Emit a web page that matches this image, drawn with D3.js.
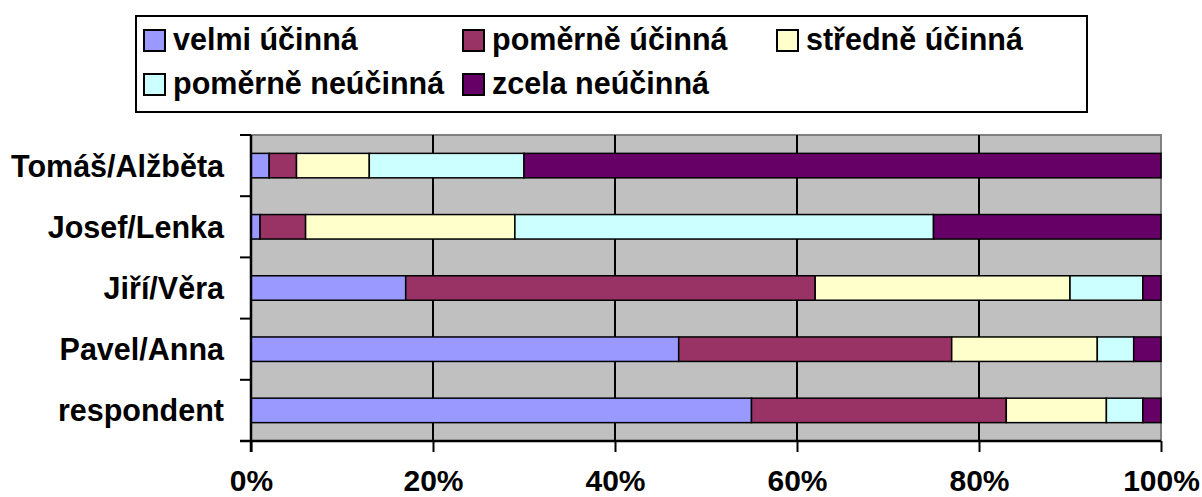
<!DOCTYPE html>
<html><head><meta charset="utf-8">
<script src="https://cdn.jsdelivr.net/npm/d3@7"></script>
<style>
html,body{margin:0;padding:0;background:#fff;}
svg{display:block;font-family:"Liberation Sans",Arial,sans-serif;font-weight:bold;}
</style></head>
<body>
<svg id="chart" width="1202" height="497"></svg>
<script>
const categories = ["Tomáš/Alžběta","Josef/Lenka","Jiří/Věra","Pavel/Anna","respondent"];
const seriesNames = ["velmi účinná","poměrně účinná","středně účinná","poměrně neúčinná","zcela neúčinná"];
const velmi     = [2, 1, 17, 47, 55];
const pomerne   = [3, 5, 45, 30, 28];
const stredne   = [8, 23, 28, 16, 11];
const neucinna  = [17, 46, 8, 4, 4];
const zcela     = [70, 25, 2, 3, 2];
const colors = ["#9999FF","#993366","#FFFFCC","#CCFFFF","#660066"];
const xTicks = [0, 0.2, 0.4, 0.6, 0.8, 1];

const svg = d3.select("#chart");
const L = 251, R = 1161, T = 135, B = 441;

const rows = categories.map((c,i)=>{
  const vals=[velmi[i],pomerne[i],stredne[i],neucinna[i],zcela[i]];
  const tot=d3.sum(vals);
  const o={cat:c};
  seriesNames.forEach((s,j)=>o[s]=vals[j]/tot);
  return o;
});
const stack = d3.stack().keys(seriesNames)(rows);

const x = d3.scaleLinear().domain([0,1]).range([L,R]);
const y = d3.scaleBand().domain(categories).range([T,B]).paddingInner(0.6).paddingOuter(0.3);
const yb = d3.scaleBand().domain(categories).range([T,B]).padding(0);

// plot background
svg.append("rect").attr("x",L).attr("y",T).attr("width",R-L).attr("height",B-T).attr("fill","#C0C0C0");
// plot border top/right gray
svg.append("path").attr("d",`M${L},${T}H${R}V${B}`).attr("fill","none").attr("stroke","#808080").attr("stroke-width",2);

// grid lines
svg.append("g").selectAll("line").data(xTicks.filter(t=>t>0&&t<1)).join("line")
  .attr("x1",d=>x(d)).attr("x2",d=>x(d)).attr("y1",T).attr("y2",B)
  .attr("stroke","#000").attr("stroke-width",2);

// bars
svg.append("g").selectAll("g").data(stack).join("g")
  .attr("fill",(d,i)=>colors[i])
  .selectAll("rect").data(d=>d).join("rect")
  .attr("x",d=>x(d[0])).attr("width",d=>x(d[1])-x(d[0]))
  .attr("y",d=>y(d.data.cat)).attr("height",y.bandwidth())
  .attr("stroke","#000").attr("stroke-width",1.5);

// x axis
const xAxis = d3.axisBottom(x).tickValues(xTicks).tickFormat(d3.format(".0%")).tickSize(11).tickPadding(24);
const gx = svg.append("g").attr("transform",`translate(0,${B})`).call(xAxis);
gx.select(".domain").attr("stroke","#000").attr("stroke-width",2.5).attr("d",`M${L-11},0H${R}`);
gx.selectAll(".tick line").attr("stroke","#000").attr("stroke-width",2);
gx.selectAll(".tick text").attr("font-size",30).attr("font-weight","bold")
  .attr("font-family","'Liberation Sans',Arial,sans-serif").attr("fill","#000")
  .attr("dy",null).attr("y",50);

// y axis
const yAxis = d3.axisLeft(yb).tickSize(0).tickPadding(27);
const gy = svg.append("g").attr("transform",`translate(${L},0)`).call(yAxis);
gy.select(".domain").attr("stroke","#000").attr("stroke-width",2.5).attr("d",`M0,${T}V${B+11}`);
gy.selectAll(".tick text").attr("font-size",30.5).attr("font-weight","bold")
  .attr("font-family","'Liberation Sans',Arial,sans-serif").attr("fill","#000")
  .attr("dy","0.36em");
// y ticks at band boundaries
const bounds = categories.map(c=>yb(c)).concat([B]);
svg.append("g").selectAll("line").data(bounds).join("line")
  .attr("x1",L-11).attr("x2",L).attr("y1",d=>d).attr("y2",d=>d)
  .attr("stroke","#000").attr("stroke-width",2);

// legend
const lg = svg.append("g");
lg.append("rect").attr("x",136).attr("y",16).attr("width",951).attr("height",96)
  .attr("fill","#fff").attr("stroke","#000").attr("stroke-width",2);
const colX = [144, 463, 777];
const rowY = [30, 74];
seriesNames.forEach((s,i)=>{
  const cx = colX[i%3], cy = rowY[Math.floor(i/3)];
  lg.append("rect").attr("x",cx).attr("y",cy).attr("width",21).attr("height",21)
    .attr("fill",colors[i]).attr("stroke","#000").attr("stroke-width",2);
  lg.append("text").attr("x",cx+29).attr("y",cy+20).attr("font-size",30.5).attr("fill","#000").text(s);
});
</script>
</body></html>
